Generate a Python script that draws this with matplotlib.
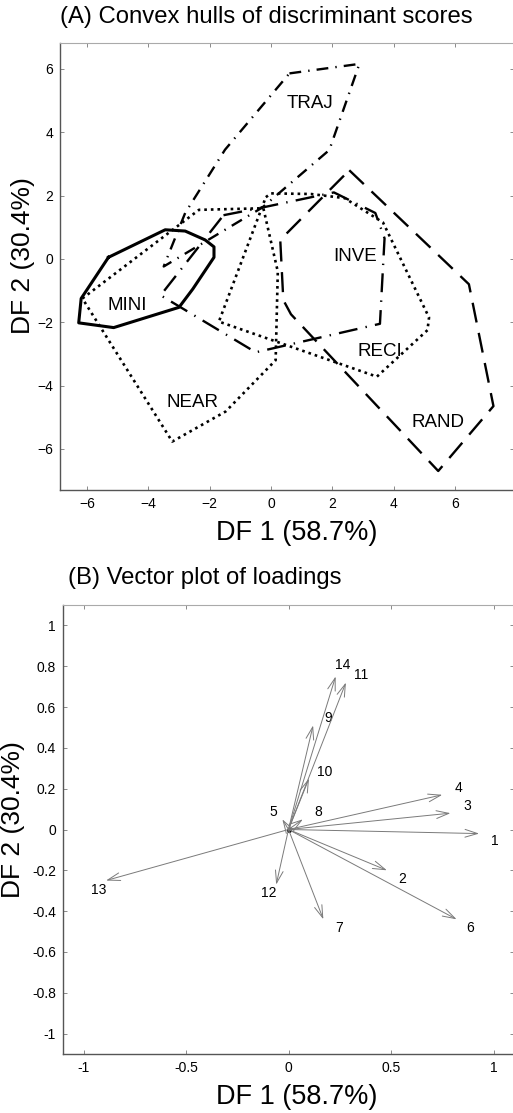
import matplotlib
matplotlib.use("Agg")
import matplotlib.pyplot as plt

plt.rcParams['font.family'] = ['Liberation Sans', 'DejaVu Sans']

# (A) convex hulls of discriminant scores, vertices
mini_x = [-5.3, -3.45, -2.8, -2.15, -1.86, -1.86, -2.55, -3.0, -5.13, -6.27, -6.19]
mini_y = [0.05, 0.92, 0.88, 0.6, 0.38, 0.05, -0.95, -1.53, -2.17, -2.02, -1.25]

near_x = [-6.15, -2.35, -0.25, 0.22, 0.15, -1.48, -3.22]
near_y = [-1.25, 1.55, 1.6, -0.4, -3.2, -4.82, -5.77]

reci_x = [-0.17, 0.0, 1.3, 2.4, 3.65, 5.15, 5.1, 3.45, -1.7]
reci_y = [1.95, 2.07, 2.05, 1.92, 1.15, -1.85, -2.25, -3.72, -1.98]

traj_x = [0.6, 2.88, 1.9, -0.29, -3.5, -2.8, -1.5]
traj_y = [5.86, 6.16, 3.44, 1.62, -0.24, 1.45, 3.45]

inve_x = [-1.55, -0.3, 2.05, 3.4, 3.7, 3.55, -0.5, -3.6]
inve_y = [1.38, 1.62, 2.1, 1.45, 0.65, -2.05, -2.95, -1.15]

rand_x = [2.55, 6.45, 7.25, 5.45, 0.65, 0.4, 0.3]
rand_y = [2.8, -0.8, -4.65, -6.7, -1.75, -1.3, 0.6]

group_names = ['MINI', 'NEAR', 'RECI', 'TRAJ', 'INVE', 'RAND']
label_x = [-4.68, -2.57, 3.54, 1.27, 2.74, 5.44]
label_y = [-1.48, -4.53, -2.92, 4.92, 0.07, -5.17]

# (B) loadings on DF1 / DF2
var_names = ['1', '2', '3', '4', '5', '6', '7', '8', '9', '10', '11', '12', '13', '14']
load_df1 = [0.93, 0.48, 0.79, 0.75, -0.03, 0.82, 0.17, 0.07, 0.12, 0.1, 0.28, -0.06, -0.89, 0.23]
load_df2 = [-0.02, -0.2, 0.08, 0.17, 0.05, -0.44, -0.44, 0.05, 0.51, 0.25, 0.72, -0.27, -0.25, 0.75]

# label offsets in points, layout only
lab_dx = [11, 11, 12, 11.5, -6.5, 10, 11, 11, 11, 11, 11, -5.5, -5.5, 5]
lab_dy = [-5, -6.5, 5.5, 5, 5.5, -6, -6, 5.5, 5.5, 5, 5.5, -6, -6.5, 8]

W, H = 513, 1113
fig = plt.figure(figsize=(W / 100, H / 100), dpi=100)

ax1 = fig.add_axes([60 / W, 1 - 490 / H, 454 / W, 447 / H])
ax2 = fig.add_axes([63 / W, 1 - 1054 / H, 451 / W, 449 / H])

hulls = [
    (mini_x, mini_y, '-', 2.2),
    (near_x, near_y, (0, (1, 1.5)), 1.9),
    (reci_x, reci_y, (0, (1, 1.5)), 1.9),
    (traj_x, traj_y, (0, (5, 3, 0.6, 3)), 1.7),
    (inve_x, inve_y, (0, (8, 3.5, 0.6, 3.5)), 1.7),
    (rand_x, rand_y, (0, (8.5, 4.5)), 1.7),
]
for xs, ys, ls, lw in hulls:
    ax1.plot(xs + xs[:1], ys + ys[:1], color='black', linestyle=ls, lw=lw,
             solid_joinstyle='round')

for name, lx, ly in zip(group_names, label_x, label_y):
    ax1.text(lx, ly, name, ha='center', va='center', fontsize=13.5)

ax1.set_xlim(-6.88, 7.92)
ax1.set_ylim(-7.3, 6.82)
ax1.set_xticks([-6, -4, -2, 0, 2, 4, 6])
ax1.set_yticks([-6, -4, -2, 0, 2, 4, 6])

# vectors
for i in range(len(var_names)):
    ax2.annotate('', xy=(load_df1[i], load_df2[i]), xytext=(0, 0),
                 arrowprops=dict(arrowstyle='->,head_length=0.9,head_width=0.28',
                                 mutation_scale=10, color='#7a7a7a', lw=0.7,
                                 shrinkA=0, shrinkB=0))
    ax2.annotate(var_names[i], xy=(load_df1[i], load_df2[i]),
                 xytext=(lab_dx[i], lab_dy[i]), textcoords='offset points',
                 ha='center', va='center', fontsize=10)
ax2.plot([0], [0], 'o', color='black', ms=2.5)

ax2.set_xlim(-1.1, 1.1)
ax2.set_ylim(-1.1, 1.1)
ax2.set_xticks([-1, -0.5, 0, 0.5, 1])
ax2.set_xticklabels(['-1', '-0.5', '0', '0.5', '1'])
ax2.set_yticks([-1, -0.8, -0.6, -0.4, -0.2, 0, 0.2, 0.4, 0.6, 0.8, 1])
ax2.set_yticklabels(['-1', '-0.8', '-0.6', '-0.4', '-0.2', '0', '0.2', '0.4',
                     '0.6', '0.8', '1'])

for ax in (ax1, ax2):
    for s in ('left', 'bottom'):
        ax.spines[s].set_color('#555555')
        ax.spines[s].set_linewidth(1.0)
    ax.spines['top'].set_color('#aaaaaa')
    ax.spines['top'].set_linewidth(0.8)
    ax.spines['right'].set_visible(False)
    ax.tick_params(direction='in', length=3, width=0.6, color='#777777',
                   top=True, right=True, labelsize=10, pad=5)

fig.text(60 / W, 1 - 17 / H, '(A) Convex hulls of discriminant scores',
         ha='left', va='center', fontsize=17.2)
fig.text(68 / W, 1 - 578 / H, '(B) Vector plot of loadings',
         ha='left', va='center', fontsize=17.2)

fig.text(297 / W, 1 - 533 / H, 'DF 1 (58.7%)', ha='center', va='center', fontsize=19.5)
fig.text(297 / W, 1 - 1097 / H, 'DF 1 (58.7%)', ha='center', va='center', fontsize=19.5)
fig.text(23 / W, 1 - 256 / H, 'DF 2 (30.4%)', ha='center', va='center',
         rotation=90, fontsize=19)
fig.text(13 / W, 1 - 820 / H, 'DF 2 (30.4%)', ha='center', va='center',
         rotation=90, fontsize=19)

fig.savefig('out.png', dpi=100)
